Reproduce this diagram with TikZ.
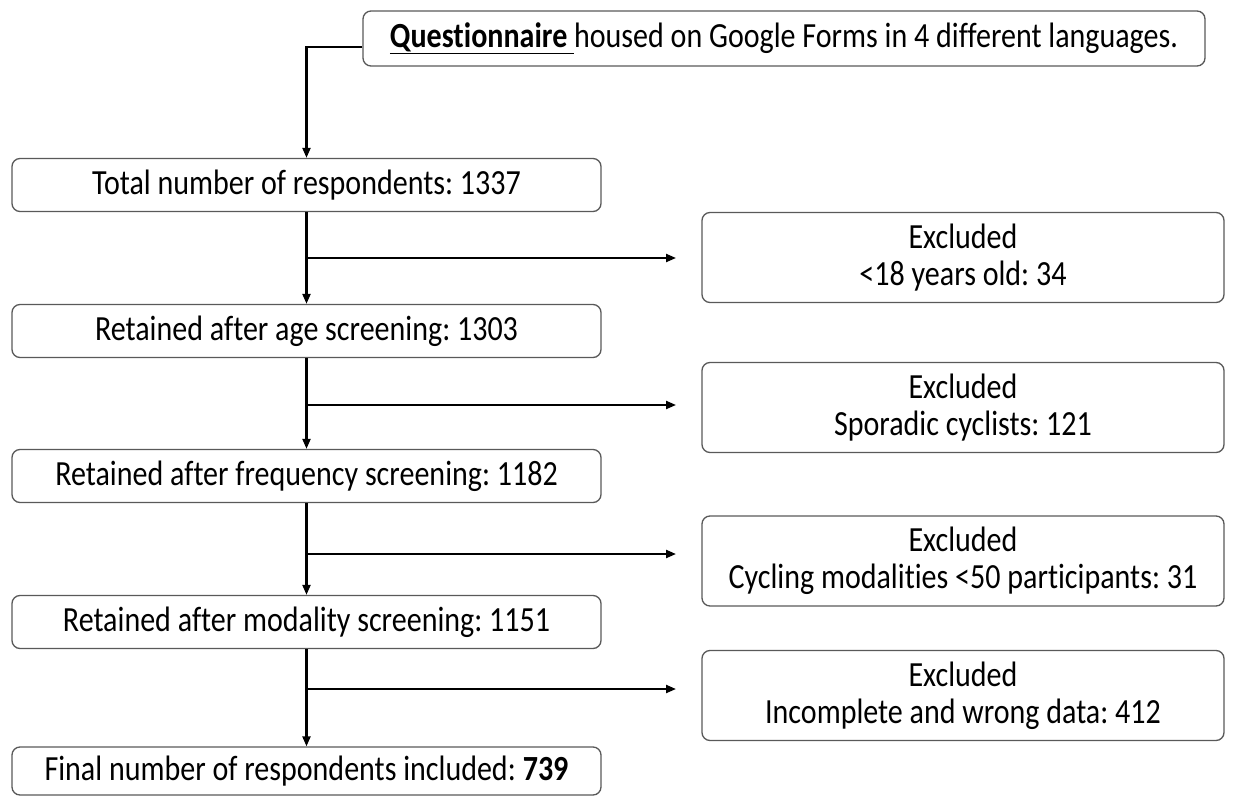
\documentclass[tikz,border=0pt]{standalone}
\usepackage{fontspec}
\setmainfont{Carlito}[Ligatures=NoCommon, FakeStretch=0.85]
\usetikzlibrary{arrows.meta}
\begin{document}
\frenchspacing
\begin{tikzpicture}[x=0.75pt,y=-0.75pt,
  box/.style={draw=black!65, line width=1pt, rounded corners=6pt, inner sep=0pt,
    font=\fontsize{26.5}{28}\selectfont, text=black, align=center},
  lbox/.style={box, minimum width=441.75pt, minimum height=39.75pt},
  rbox/.style={box, minimum width=391.5pt, minimum height=67.5pt},
  flow/.style={line width=1.6pt, -{Triangle[length=7.5pt,width=6pt]}}]
\useasboundingbox (0,0) rectangle (1233,796);
\node[box, minimum width=631.5pt, minimum height=41.25pt] (top) at (784,38.5)
  {\underline{\textbf{Questionnaire}\ }housed on Google Forms in 4 different languages.};
\node[lbox] (L1) at (306.5,185) {Total number of respondents: 1337};
\node[lbox] (L2) at (306.5,331) {Retained after age screening: 1303};
\node[lbox] (L3) at (306.5,476) {Retained after frequency screening: 1182};
\node[lbox] (L4) at (306.5,622) {Retained after modality screening: 1151};
\node[lbox, minimum height=36pt] (L5) at (306.5,771) {Final number of respondents included: \textbf{739}};
\node[rbox] (R1) at (963,257.5) {Excluded\\<18 years old: 34};
\node[rbox] (R2) at (963,407.5) {Excluded\\Sporadic cyclists: 121};
\node[rbox] (R3) at (963,561) {Excluded\\Cycling modalities <50 participants: 31};
\node[rbox] (R4) at (963,695.5) {Excluded\\Incomplete and wrong data: 412};
\coordinate (j1) at (306.5,258); \coordinate (e1) at (676,258);
\coordinate (j2) at (306.5,405); \coordinate (e2) at (676,405);
\coordinate (j3) at (306.5,554); \coordinate (e3) at (676,554);
\coordinate (j4) at (306.5,689); \coordinate (e4) at (676,689);
\draw[flow] ([yshift=-6.4pt]top.west) -| (L1.north);
\draw[flow] (L1.south) -- (L2.north);
\draw[flow] (L2.south) -- (L3.north);
\draw[flow] (L3.south) -- (L4.north);
\draw[flow] (L4.south) -- (L5.north);
\draw[flow] (j1) -- (e1);
\draw[flow] (j2) -- (e2);
\draw[flow] (j3) -- (e3);
\draw[flow] (j4) -- (e4);
\end{tikzpicture}
\end{document}
